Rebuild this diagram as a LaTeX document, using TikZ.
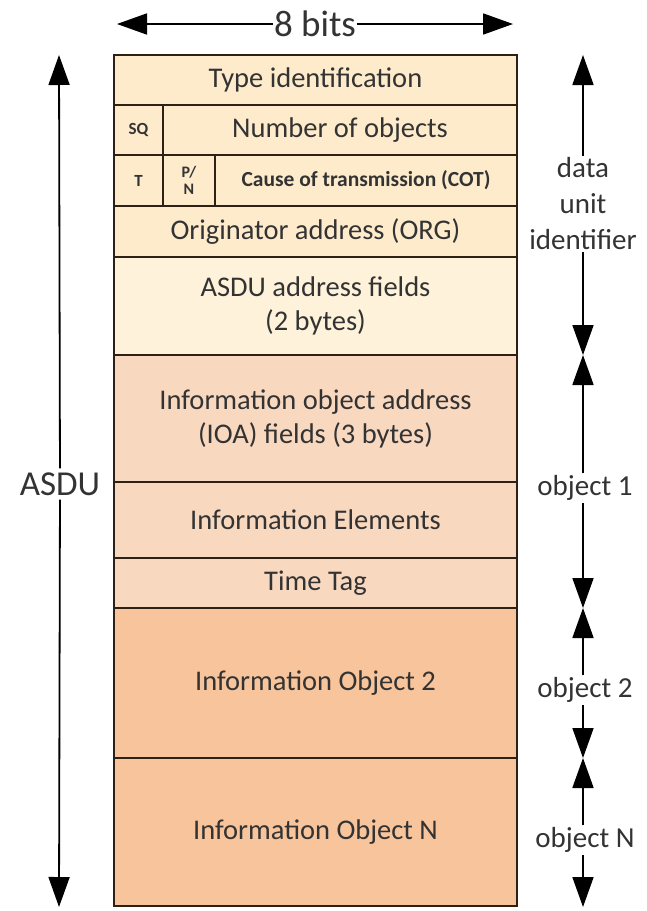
\documentclass[tikz,border=0pt]{standalone}
\usepackage{fontspec}
\setmainfont{Carlito}
\usetikzlibrary{arrows.meta}
\definecolor{cream}{RGB}{253,235,204}
\definecolor{paleCream}{RGB}{254,242,218}
\definecolor{peach}{RGB}{249,216,192}
\definecolor{apricot}{RGB}{247,196,156}
\definecolor{edge}{RGB}{45,33,22}
\begin{document}
\begin{tikzpicture}[x=1pt, y=-1pt,
  fld/.style={draw=edge, line width=2.6pt, anchor=north west, inner sep=0pt, outer sep=0pt,
    text=black!80, font=\fontsize{28.5}{34}\selectfont, align=center},
  cell/.style 2 args={minimum width=#1pt, minimum height=#2pt},
  tiny/.style={font=\fontsize{17}{17}\selectfont\bfseries},
  lbl/.style={text=black!80, font=\fontsize{29}{36}\selectfont, align=center, inner sep=2pt},
  arr/.style={line width=1.8pt, -{Triangle[length=30pt,width=21pt]}}]
  \useasboundingbox (0,0) rectangle (647,911);
  % header rows
  \node[fld, fill=cream, cell={403}{50}] (tid) at (114,55) {Type identification};
  \node[fld, fill=cream, cell={49}{50}, tiny] (sq) at (114,105) {SQ};
  \node[fld, fill=cream, cell={354}{50}] (nobj) at (163,105) {Number of objects};
  \node[fld, fill=cream, cell={49}{51}, tiny] (t) at (114,155) {T};
  \node[fld, fill=cream, cell={52}{51}, font=\fontsize{16}{17}\selectfont\bfseries] (pn) at (163,155) {P/\\N};
  \node[fld, fill=cream, cell={302}{51}, font=\fontsize{21.5}{24}\selectfont\bfseries] (cot) at (215,155) {Cause of transmission (COT)};
  \node[fld, fill=cream, cell={403}{51}] (org) at (114,206) {Originator address (ORG)};
  \node[fld, fill=paleCream, cell={403}{98}] (addr) at (114,257) {ASDU address fields\\(2 bytes)};
  % object 1
  \node[fld, fill=peach, cell={403}{127}] (ioa) at (114,355) {Information object address\\(IOA) fields (3 bytes)};
  \node[fld, fill=peach, cell={403}{76}] (ie) at (114,482) {Information Elements};
  \node[fld, fill=peach, cell={403}{50}] (tt) at (114,558) {Time Tag};
  % further objects
  \node[fld, fill=apricot, cell={403}{150}] (io2) at (114,608) {Information Object 2};
  \node[fld, fill=apricot, cell={403}{148}] (ioN) at (114,758) {Information Object N};

  % width arrow
  \node[lbl, font=\fontsize{37}{37}\selectfont, inner sep=1pt] (bits) at (315,24) {8 bits};
  \coordinate (wl) at (117,24); \coordinate (wr) at (513,24);
  \draw[arr] (bits) -- (wl); \draw[arr] (bits) -- (wr);

  % ASDU arrow
  \node[lbl, font=\fontsize{35}{35}\selectfont, inner sep=4pt] (asdu) at (60,484) {ASDU};
  \coordinate (at) at (59,55); \coordinate (ab) at (59,907);
  \draw[arr] (asdu) -- (at); \draw[arr] (asdu) -- (ab);

  % right hand spans
  \coordinate (c0) at (583,55); \coordinate (c1) at (583,355);
  \coordinate (c2) at (583,608); \coordinate (c3) at (583,758); \coordinate (c4) at (583,907);
  \node[lbl] (dui) at (583,204) {data\\unit\\identifier};
  \node[lbl] (ob1) at (585,488) {object 1};
  \node[lbl] (ob2) at (585,690) {object 2};
  \node[lbl] (obN) at (585,840) {object N};
  \draw[arr] (dui) -- (c0); \draw[arr] (dui) -- (c1);
  \draw[arr] (ob1.north -| c1) -- (c1); \draw[arr] (ob1.south -| c2) -- (c2);
  \draw[arr] (ob2.north -| c2) -- (c2); \draw[arr] (ob2.south -| c3) -- (c3);
  \draw[arr] (obN.north -| c3) -- (c3); \draw[arr] (obN.south -| c4) -- (c4);
\end{tikzpicture}
\end{document}
